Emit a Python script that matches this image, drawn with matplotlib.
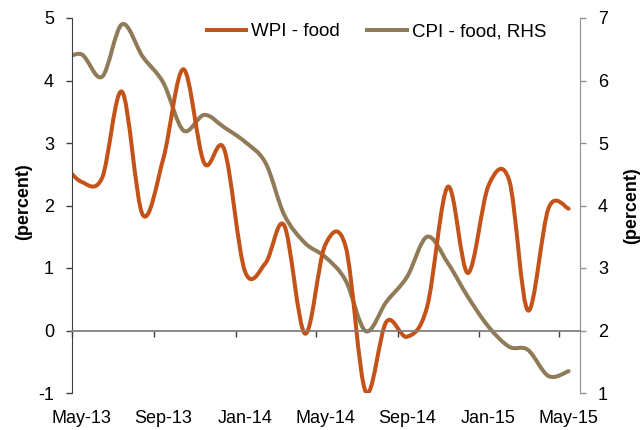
import numpy as np
import pandas as pd
import matplotlib
matplotlib.use("Agg")
import matplotlib.pyplot as plt
import matplotlib.dates as mdates
from matplotlib.path import Path
from matplotlib.patches import PathPatch
from matplotlib.lines import Line2D

plt.rcParams['font.family'] = ['Liberation Sans', 'DejaVu Sans']
plt.rcParams['axes.unicode_minus'] = False

# monthly readings, plotted mid-month (Apr-13 lies left of the axis and gets clipped)
months = pd.date_range('2013-04-01', '2015-05-01', freq='MS') + pd.Timedelta(days=14)
wpi_food = [2.70, 2.38, 2.44, 3.82, 1.85, 2.76, 4.18, 2.68, 2.90, 0.95, 1.08, 1.68, -0.05,
            1.36, 1.34, -0.98, 0.14, -0.10, 0.38, 2.30, 0.92, 2.32, 2.40, 0.32, 1.96, 1.95]
cpi_food = [6.30, 6.42, 6.06, 6.90, 6.38, 5.96, 5.20, 5.45, 5.25, 5.02, 4.68, 3.85, 3.40,
            3.18, 2.80, 1.99, 2.46, 2.86, 3.50, 3.08, 2.54, 2.06, 1.74, 1.69, 1.27, 1.35]

WPI_COLOR = '#C4531A'
CPI_COLOR = '#8F7B58'


def smooth_path(x, y):
    # Catmull-Rom style bezier, similar to a spreadsheet "smoothed line"
    p = np.column_stack([x, y])
    ext = np.vstack([p[0], p, p[-1]])
    verts = [p[0]]
    codes = [Path.MOVETO]
    for i in range(1, len(ext) - 2):
        c1 = ext[i] + (ext[i + 1] - ext[i - 1]) / 6
        c2 = ext[i + 1] - (ext[i + 2] - ext[i]) / 6
        verts += [c1, c2, ext[i + 1]]
        codes += [Path.CURVE4] * 3
    return Path(verts, codes)


xnum = mdates.date2num(months.to_pydatetime())

fig = plt.figure(figsize=(6.41, 4.30), dpi=100)
ax = fig.add_axes([72 / 641, 1 - 393 / 430, 508 / 641, 375 / 430])
ax2 = ax.twinx()
ax.set_zorder(ax2.get_zorder() + 1)
ax.patch.set_visible(False)

ax2.add_patch(PathPatch(smooth_path(xnum, cpi_food), fill=False, edgecolor=CPI_COLOR,
                        lw=2.9, capstyle='round', joinstyle='round'))
ax.add_patch(PathPatch(smooth_path(xnum, wpi_food), fill=False, edgecolor=WPI_COLOR,
                       lw=2.9, capstyle='round', joinstyle='round'))

ax.set_xlim(mdates.datestr2num('2013-05-01'), mdates.datestr2num('2015-06-01'))
ax.set_ylim(-1, 5)
ax2.set_ylim(1, 7)
ax.set_yticks(range(-1, 6))
ax2.set_yticks(range(1, 8))

# x axis sits on the zero line, labels stay at the bottom
ax.spines['bottom'].set_position(('data', 0))
ax.spines['bottom'].set_color('#808080')
ax.spines['bottom'].set_linewidth(1.3)
ax.spines['top'].set_visible(False)
ax.spines['right'].set_visible(False)
ax.spines['left'].set_color('#404040')
ax2.spines['top'].set_visible(False)
ax2.spines['left'].set_visible(False)
ax2.spines['bottom'].set_visible(False)
ax2.spines['right'].set_color('#909090')

ax.xaxis.set_major_locator(mdates.MonthLocator(bymonth=[1, 5, 9]))
ax.xaxis.set_major_formatter(plt.NullFormatter())
ax.xaxis.set_minor_locator(mdates.MonthLocator(bymonth=[1, 5, 9], bymonthday=15))
ax.xaxis.set_minor_formatter(mdates.DateFormatter('%b-%y'))
ax.tick_params(axis='x', which='major', direction='out', length=4, width=1, color='#404040')
ax.tick_params(axis='x', which='minor', length=0, pad=57, labelsize=13)
ax.tick_params(axis='y', direction='out', length=4, width=1, color='#404040', pad=9, labelsize=13)
ax2.tick_params(axis='y', direction='out', length=4, width=1, color='#909090', pad=9, labelsize=13)

ax.set_ylabel('(percent)', fontsize=13, fontweight='bold')
ax.yaxis.set_label_coords(-0.078, 0.51)
ax2.set_ylabel('(percent)', fontsize=13, fontweight='bold', rotation=90)
ax2.yaxis.set_label_coords(1.084, 0.50)

handles = [Line2D([], [], color=WPI_COLOR, lw=2.9), Line2D([], [], color=CPI_COLOR, lw=2.9)]
ax.legend(handles, ['WPI - food', 'CPI - food, RHS'], loc='center', bbox_to_anchor=(0.599, 0.963),
          ncol=2, frameon=False, fontsize=13.5, handlelength=2.1, handletextpad=0.25,
          columnspacing=1.5, borderaxespad=0)

fig.savefig('out.png', dpi=100)
